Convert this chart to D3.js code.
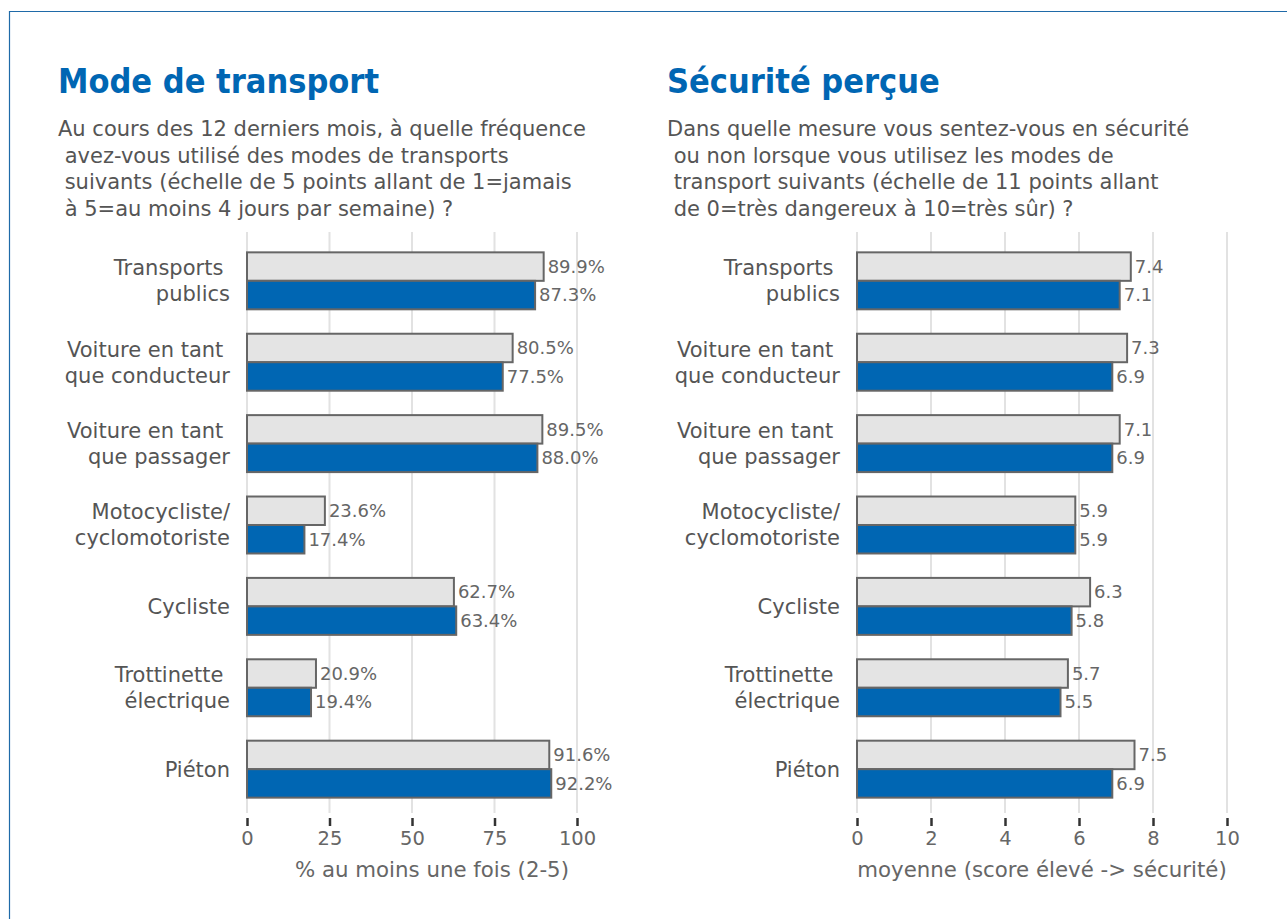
<!DOCTYPE html>
<html>
<head>
<meta charset="utf-8">
<script src="https://cdn.jsdelivr.net/npm/d3@7"></script>
<style>
  body { margin: 0; background: #fff; }
  svg text { font-family: "DejaVu Sans", sans-serif; white-space: pre; }
  svg text.titre { font-family: "DejaVu Sans Condensed", "DejaVu Sans", sans-serif; }
</style>
</head>
<body>
<div id="chart"></div>
<script>
// categories (line breaks kept as in the picture)
var categories = [
    ["Transports ", "publics"],
    ["Voiture en tant ", "que conducteur"],
    ["Voiture en tant ", "que passager"],
    ["Motocycliste/", "cyclomotoriste"],
    ["Cycliste"],
    ["Trottinette ", "électrique"],
    ["Piéton"]
];

// left panel: % at least once (2-5)
var modeGris = [89.9, 80.5, 89.5, 23.6, 62.7, 20.9, 91.6];
var modeBleu = [87.3, 77.5, 88.0, 17.4, 63.4, 19.4, 92.2];
var modeTicks = [0, 25, 50, 75, 100];

// right panel: mean safety score 0-10
var secuGris = [7.4, 7.3, 7.1, 5.9, 6.3, 5.7, 7.5];
var secuBleu = [7.1, 6.9, 6.9, 5.9, 5.8, 5.5, 6.9];
var secuTicks = [0, 2, 4, 6, 8, 10];

var titres = ["Mode de transport", "Sécurité perçue"];
var sousTitres = [
    ["Au cours des 12 derniers mois, à quelle fréquence",
     " avez-vous utilisé des modes de transports",
     " suivants (échelle de 5 points allant de 1=jamais",
     " à 5=au moins 4 jours par semaine) ?"],
    ["Dans quelle mesure vous sentez-vous en sécurité",
     " ou non lorsque vous utilisez les modes de",
     " transport suivants (échelle de 11 points allant",
     " de 0=très dangereux à 10=très sûr) ?"]
];
var axisTitres = ["% au moins une fois (2-5)", "moyenne (score élevé -> sécurité)"];

var width = 1287, height = 919;
var blue = "#0066b3";

var svg = d3.select('#chart')
    .append('svg')
    .attr('width', width)
    .attr('height', height);

// blue frame, open to the right and bottom
svg.append('path')
    .attr('d', `M9.5,${height} V11.5 H${width}`)
    .attr('fill', 'none')
    .attr('stroke', '#1f6aa8')
    .attr('stroke-width', 1.2);

// shared vertical band scale
var y = d3.scaleBand()
    .domain(d3.range(categories.length))
    .range([232, 818])
    .paddingInner(0.3)
    .paddingOuter(0.25);

var ySub = d3.scaleBand()
    .domain([0, 1])
    .range([0, y.bandwidth()]);

var panels = [
    { x0: 58, plotLeft: 247, plotRight: 577, labelX: 230, domain: [0, 100], ticks: modeTicks,
      gris: modeGris, bleu: modeBleu, fmt: d => d.toFixed(1) + '%', axisTitleX: 432 },
    { x0: 667, plotLeft: 857, plotRight: 1227, labelX: 840, domain: [0, 10], ticks: secuTicks,
      gris: secuGris, bleu: secuBleu, fmt: d => d.toFixed(1), axisTitleX: 1042 }
];

panels.forEach((p, i) => {
    var g = svg.append('g');

    // title + subtitle
    g.append('text')
        .attr('class', 'titre')
        .attr('x', p.x0)
        .attr('y', 93)
        .attr('fill', blue)
        .attr('font-size', 34)
        .attr('font-weight', 'bold')
        .text(titres[i]);

    g.append('text')
        .attr('fill', '#555')
        .attr('font-size', 21)
        .selectAll('tspan')
        .data(sousTitres[i])
        .enter()
        .append('tspan')
        .attr('x', p.x0)
        .attr('y', (d, k) => 136 + k * 26.5)
        .text(d => d);

    var x = d3.scaleLinear()
        .domain(p.domain)
        .range([p.plotLeft, p.plotRight]);

    // gridlines
    g.selectAll('line.grid')
        .data(p.ticks)
        .enter()
        .append('line')
        .attr('class', 'grid')
        .attr('x1', d => x(d))
        .attr('x2', d => x(d))
        .attr('y1', 232)
        .attr('y2', 813)
        .attr('stroke', '#e2e2e2')
        .attr('stroke-width', 2);

    // bottom axis
    var axis = g.append('g')
        .attr('transform', 'translate(0,818)')
        .call(d3.axisBottom(x).tickValues(p.ticks).tickSize(8).tickPadding(5));
    axis.select('.domain').remove();
    axis.selectAll('.tick line').attr('stroke', '#333').attr('stroke-width', 2.5);
    axis.selectAll('.tick text')
        .attr('fill', '#666')
        .attr('font-size', 19.5)
        .attr('font-family', null);

    g.append('text')
        .attr('x', p.axisTitleX)
        .attr('y', 877)
        .attr('text-anchor', 'middle')
        .attr('fill', '#666')
        .attr('font-size', 21.3)
        .text(axisTitres[i]);

    // bars
    var rows = categories.map((c, k) => ({ k: k, vals: [p.gris[k], p.bleu[k]] }));

    var row = g.selectAll('g.row')
        .data(rows)
        .enter()
        .append('g')
        .attr('class', 'row')
        .attr('transform', d => `translate(0,${y(d.k)})`);

    row.selectAll('rect')
        .data(d => d.vals)
        .enter()
        .append('rect')
        .attr('x', x(0))
        .attr('y', (d, s) => ySub(s))
        .attr('width', d => x(d) - x(0))
        .attr('height', ySub.bandwidth())
        .attr('fill', (d, s) => s === 0 ? '#e4e4e4' : blue)
        .attr('stroke', '#666')
        .attr('stroke-width', 2);

    row.selectAll('text.val')
        .data(d => d.vals)
        .enter()
        .append('text')
        .attr('class', 'val')
        .attr('x', d => x(d) + 4)
        .attr('y', (d, s) => ySub(s) + ySub.bandwidth() / 2)
        .attr('dy', '0.35em')
        .attr('fill', '#666')
        .attr('font-size', 18)
        .text(d => p.fmt(d));

    // category labels
    row.append('text')
        .attr('text-anchor', 'end')
        .attr('fill', '#555')
        .attr('font-size', 21)
        .selectAll('tspan')
        .data(d => categories[d.k])
        .enter()
        .append('tspan')
        .attr('x', p.labelX)
        .attr('y', (d, s, nodes) => y.bandwidth() / 2 + (s - (nodes.length - 1) / 2) * 26)
        .attr('dy', '0.35em')
        .text(d => d);
});
</script>
</body>
</html>
